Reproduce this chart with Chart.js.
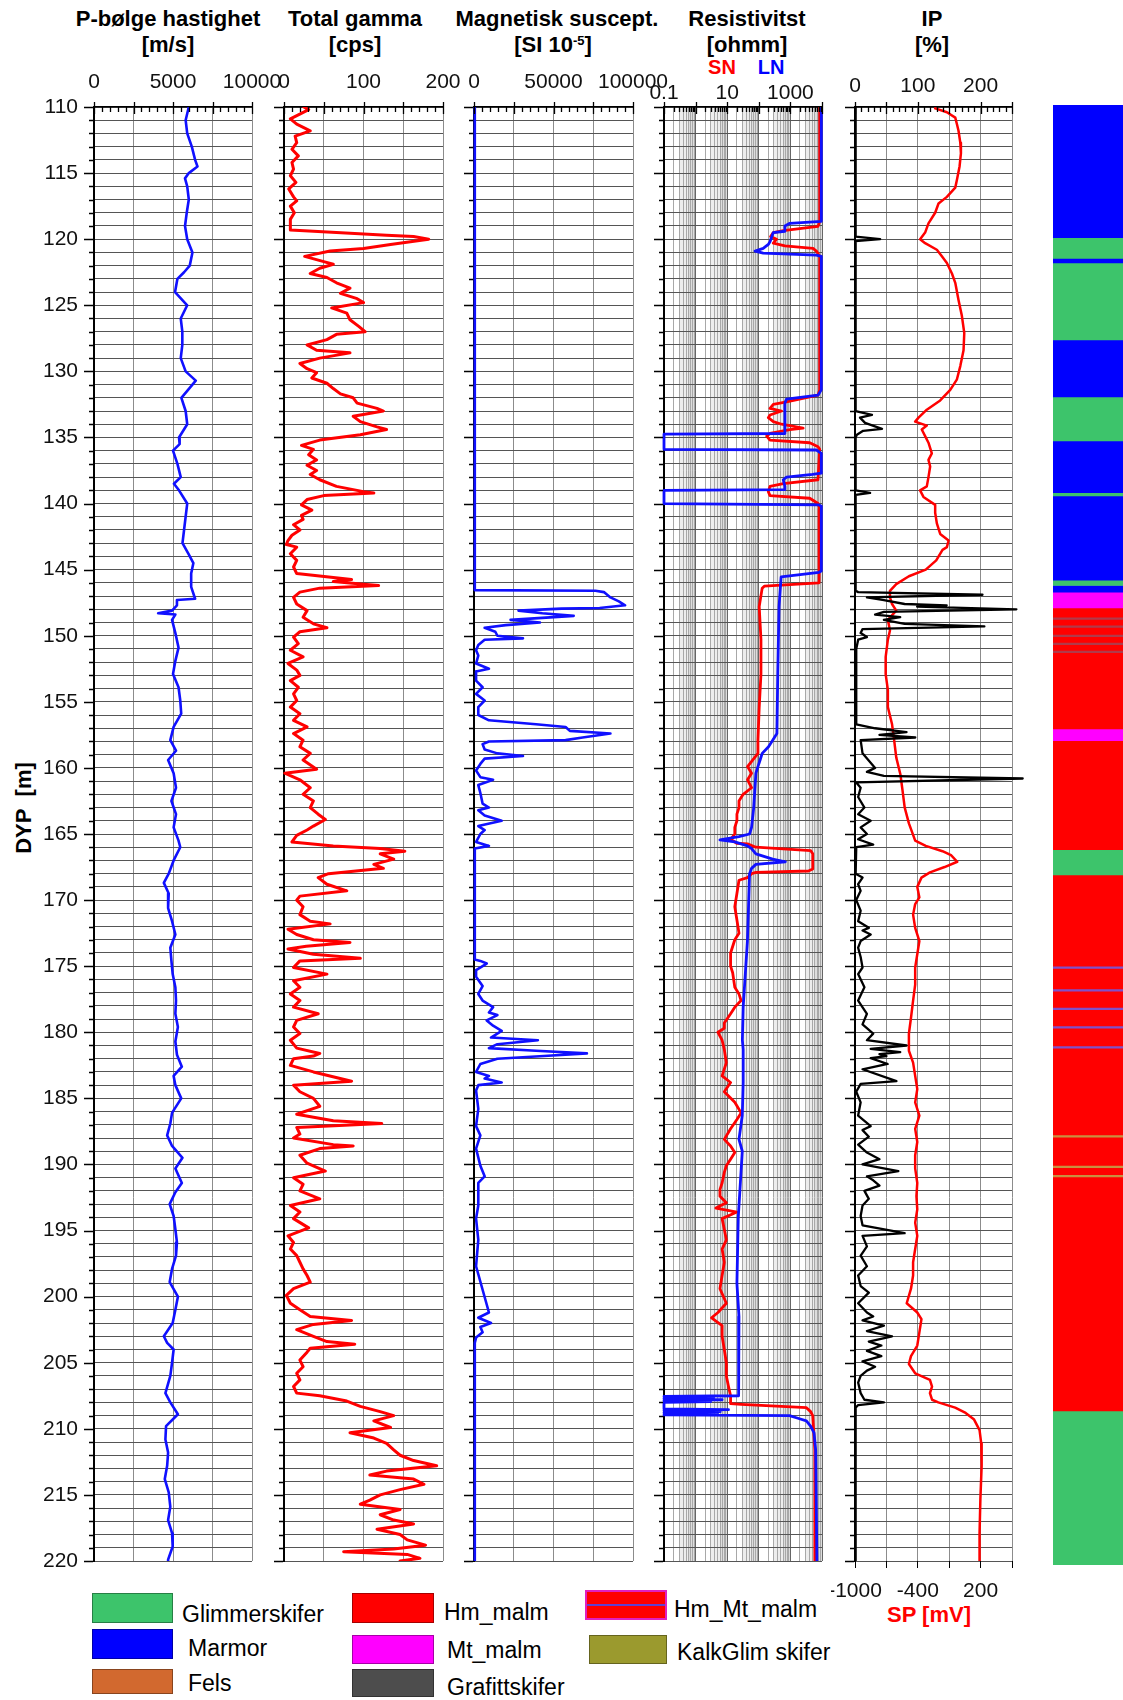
<!DOCTYPE html>
<html><head><meta charset="utf-8">
<script src="https://cdn.jsdelivr.net/npm/chart.js@4.4.1/dist/chart.umd.min.js"></script>
<style>
body{margin:0;background:#fff;font-family:"Liberation Sans",Arial,Helvetica,sans-serif;color:#000;}
#wrap{position:relative;width:1123px;height:1700px;overflow:hidden;background:#fff;}
canvas{position:absolute;}
.t{position:absolute;transform:translate(-50%,-50%);white-space:nowrap;}
.h{font-weight:bold;font-size:22px;}
.sw{position:absolute;box-sizing:border-box;border:1px solid rgba(0,0,0,0.35);}
.lt{position:absolute;font-size:23px;transform:translateY(-50%);white-space:nowrap;}
</style></head><body>
<div id="wrap">
 <div class="t h" style="left:168px;top:19px">P-bølge hastighet</div>
 <div class="t h" style="left:355px;top:19px">Total gamma</div>
 <div class="t h" style="left:557px;top:19px">Magnetisk suscept.</div>
 <div class="t h" style="left:747px;top:19px">Resistivitst</div>
 <div class="t h" style="left:932px;top:19px">IP</div>
 <div class="t h" style="left:168px;top:45px">[m/s]</div>
 <div class="t h" style="left:355px;top:45px">[cps]</div>
 <div class="t h" style="left:553px;top:45px">[SI 10<sup style="font-size:13px;vertical-align:7px">-5</sup>]</div>
 <div class="t h" style="left:747px;top:45px">[ohmm]</div>
 <div class="t h" style="left:932px;top:45px">[%]</div>
 <div class="t" style="left:722px;top:67px;font-weight:bold;font-size:20px;color:#f00">SN</div>
 <div class="t" style="left:771px;top:67px;font-weight:bold;font-size:20px;color:#00f">LN</div>
 <div class="t h" style="left:24px;top:808px;transform:translate(-50%,-50%) rotate(-90deg)">DYP&nbsp; [m]</div>
 <div class="t h" style="left:929px;top:1615px;color:#f00">SP [mV]</div>

 <div class="sw" style="left:92px;top:1593px;width:81px;height:30px;background:#3DC46B"></div>
 <div class="lt" style="left:182px;top:1614px">Glimmerskifer</div>
 <div class="sw" style="left:92px;top:1629px;width:81px;height:30px;background:#0000FF"></div>
 <div class="lt" style="left:188px;top:1648px">Marmor</div>
 <div class="sw" style="left:92px;top:1669px;width:81px;height:25px;background:#D2692F"></div>
 <div class="lt" style="left:188px;top:1683px">Fels</div>
 <div class="sw" style="left:352px;top:1593px;width:82px;height:30px;background:#FF0000"></div>
 <div class="lt" style="left:444px;top:1612px">Hm_malm</div>
 <div class="sw" style="left:352px;top:1635px;width:82px;height:29px;background:#FF00FF"></div>
 <div class="lt" style="left:447px;top:1650px">Mt_malm</div>
 <div class="sw" style="left:352px;top:1669px;width:82px;height:28px;background:#4D4D4D"></div>
 <div class="lt" style="left:447px;top:1687px">Grafittskifer</div>
 <div class="sw" style="left:585px;top:1590px;width:82px;height:30px;background:#FF0000;border:2px solid #E020C0"><div style="position:absolute;left:0;right:0;top:12px;height:2px;background:#6040D0"></div></div>
 <div class="lt" style="left:674px;top:1609px">Hm_Mt_malm</div>
 <div class="sw" style="left:589px;top:1635px;width:78px;height:29px;background:#9B9A2E"></div>
 <div class="lt" style="left:677px;top:1652px">KalkGlim skifer</div>
</div>
<script>
// ---------------- DATA (depth [m], value) ----------------
const vpData = [[110,6000],[111,5800],[112,5900],[113,6190],[114,6400],[114.5,6550],[115,6000],[115.4,5760],[116,5900],[117,6000],[118,5870],[119,5760],[120,5900],[121,6230],[122,6060],[122.5,5700],[123,5280],[124,5130],[125,5900],[126,5490],[127,5590],[128,5590],[129,5490],[130,5800],[130.7,6440],[131,6230],[132,5530],[133,5800],[134,5900],[135,5380],[135.5,5420],[136,5000],[137,5280],[138,5490],[138.5,5060],[139,5380],[140,5900],[141,5800],[142,5700],[143,5600],[143.8,5980],[144.5,6290],[145.3,6150],[146.3,6150],[147.2,6400],[147.3,5250],[147.7,5250],[148.1,4940],[148.3,4060],[148.4,5150],[148.8,4940],[149.8,5150],[150.9,5350],[151.9,5150],[152.9,5000],[153.9,5350],[154.9,5460],[155.9,5520],[156.9,5040],[157.9,4830],[158.7,5190],[159.4,4690],[160.4,5040],[161.5,5190],[162.5,4900],[163.5,5190],[164.5,5040],[165.5,5350],[166,5460],[167,5040],[168,4730],[168.7,4420],[169.5,4730],[170.6,4690],[171.6,4940],[172.6,5150],[173.6,4830],[174.6,4900],[175.6,4980],[176.6,5150],[177.6,5190],[178.6,5150],[179.6,5310],[180.7,5150],[181.7,5250],[182.6,5560],[183.3,5040],[184,5150],[185,5520],[186.1,4940],[186.9,4830],[187.8,4630],[188.6,4940],[189.5,5600],[190.3,5150],[191.4,5560],[192.1,5150],[193,4790],[193.9,5040],[194.9,5150],[195.9,5250],[196.9,5190],[197.9,4940],[198.9,4790],[200,5310],[201,5150],[202,4980],[203,4420],[203.5,4630],[204,5040],[205,4940],[206,4830],[207.3,4520],[208,4830],[208.9,5310],[209.8,4560],[210.8,4520],[211.8,4690],[212.8,4630],[213.8,4480],[214.8,4730],[215.9,4830],[216.9,4690],[217.9,4940],[218.9,4980],[219.9,4690],[220,4690]];

const gammaData = [[110,25],[110.2,31],[110.6,18],[110.9,8],[111.3,16],[111.8,33],[112.2,14],[112.7,16],[113.2,10],[113.7,18],[114.2,10],[114.7,12],[115.2,8],[115.7,15],[116.2,6],[116.8,12],[117.1,16],[117.5,8],[118,13],[118.5,8],[119,8],[119.3,8],[119.5,66],[119.7,129],[119.8,163],[120,182],[120.2,159],[120.4,134],[120.7,100],[120.9,58],[121.3,26],[121.7,50],[121.9,62],[122.2,45],[122.6,33],[122.9,54],[123.3,66],[123.7,83],[124.1,71],[124.5,92],[124.8,100],[125.2,60],[125.6,79],[126.1,83],[126.6,94],[127,102],[127.2,66],[127.6,54],[128,29],[128.4,41],[128.6,83],[129,45],[129.4,20],[129.8,29],[130.1,41],[130.5,35],[130.9,54],[131.3,62],[131.7,71],[132,87],[132.4,92],[132.8,117],[133,125],[133.4,87],[133.8,96],[134.2,117],[134.4,129],[134.8,96],[135.2,45],[135.6,22],[135.9,37],[136.3,31],[136.7,41],[137.1,29],[137.5,41],[137.8,33],[138.2,45],[138.7,66],[139.1,100],[139.2,113],[139.4,50],[139.7,29],[140.1,22],[140.5,35],[140.9,22],[141.2,24],[141.6,12],[142,20],[142.4,10],[142.8,5],[143.1,3],[143.3,16],[143.8,8],[144.3,16],[144.8,12],[145.3,16],[145.6,62],[145.75,85],[145.9,62],[146.1,100],[146.2,119],[146.4,45],[146.7,20],[147.1,12],[147.6,16],[148.1,29],[148.6,24],[149.1,37],[149.4,54],[149.7,20],[150.1,12],[150.6,18],[151.1,8],[151.6,24],[152.1,5],[152.6,16],[153,20],[153.4,8],[153.9,18],[154.4,12],[154.9,16],[155.4,8],[155.9,20],[156.4,12],[156.9,29],[157.4,12],[157.9,24],[158.4,20],[158.9,33],[159.4,24],[160.1,41],[160.4,1],[160.9,20],[161.5,33],[162,24],[162.5,37],[163,33],[163.5,43],[163.9,52],[164.4,37],[164.7,29],[165.1,16],[165.6,10],[165.9,62],[166.1,121],[166.3,152],[166.5,121],[166.9,138],[167.3,113],[167.6,125],[168,56],[168.3,43],[168.8,54],[169.3,79],[169.7,20],[170,16],[170.5,24],[171.1,20],[171.6,33],[171.8,58],[172.2,5],[172.6,16],[173,37],[173.2,83],[173.5,28],[173.7,5],[174.1,37],[174.4,96],[174.6,20],[175.1,12],[175.6,54],[176.1,12],[176.6,20],[177.1,8],[177.6,20],[178.1,12],[178.6,43],[179.1,16],[179.6,12],[180.1,20],[180.6,8],[181.2,16],[181.6,45],[181.8,37],[182,12],[182.5,8],[183,37],[183.7,85],[184,12],[184.5,20],[185,37],[185.6,45],[186.2,16],[186.7,62],[186.9,123],[187.2,16],[187.7,20],[188,12],[188.5,62],[188.6,87],[188.8,45],[189.3,20],[189.9,29],[190.5,52],[191,12],[191.5,24],[192,20],[192.6,45],[193.1,8],[193.6,20],[194.1,12],[194.8,31],[195.4,5],[195.9,12],[196.4,8],[196.9,16],[197.4,20],[197.9,24],[198.4,29],[198.9,33],[199.4,12],[199.9,3],[200.5,8],[201,20],[201.5,33],[201.8,85],[202.1,37],[202.5,16],[203,37],[203.4,54],[203.6,89],[203.9,33],[204.2,29],[204.8,20],[205.3,24],[205.8,16],[206.3,20],[206.8,12],[207.3,16],[207.5,45],[207.9,79],[208.3,96],[208.7,121],[209,138],[209.4,113],[209.9,134],[210.3,83],[210.7,113],[211.1,129],[211.6,138],[212,146],[212.4,163],[212.8,192],[213.2,129],[213.5,108],[213.8,163],[214.2,176],[214.6,146],[215,121],[215.4,108],[215.7,96],[216.1,146],[216.5,121],[216.9,138],[217.2,163],[217.6,117],[218,146],[218.4,155],[218.8,178],[219.1,138],[219.3,75],[219.5,155],[219.8,171],[220,146]];

const magData = [[110,500],[146.55,500],[146.6,76400],[146.7,81700],[147.1,85800],[147.4,91100],[147.7,95000],[147.9,79000],[147.95,55000],[148.1,28000],[148.3,43000],[148.5,62700],[148.8,23000],[149,41500],[149.2,20000],[149.4,6700],[149.7,13400],[150,14700],[150.2,30800],[150.3,6700],[150.7,2700],[151.1,1300],[151.5,2700],[152.1,1300],[152.5,9400],[152.7,1300],[153.4,1300],[153.9,5400],[154.4,1300],[154.9,6700],[155.4,2700],[156,2700],[156.4,9400],[156.7,39000],[156.9,57600],[157.2,60300],[157.4,85800],[157.7,68300],[157.9,57600],[158,9400],[158.2,5400],[158.6,6700],[158.9,14700],[159.1,30800],[159.3,6700],[159.7,4000],[160.2,1300],[160.7,4000],[160.9,12000],[161.3,2700],[161.9,4000],[162.7,5400],[163,9400],[163.2,2700],[163.6,6700],[164,17400],[164.4,2700],[164.7,6700],[165,4000],[165.6,1300],[165.9,9400],[166.1,500],[174.5,500],[174.6,4000],[174.8,8000],[175.3,1300],[175.8,1300],[176.5,5400],[177.1,2700],[177.6,5400],[178.1,12000],[178.5,9400],[178.7,14700],[179.1,8000],[179.5,12000],[179.9,17400],[180.4,10700],[180.6,40200],[180.9,14700],[181.2,9400],[181.4,39000],[181.6,71000],[181.8,44000],[182,14700],[182.4,4000],[183,1300],[183.3,9400],[183.5,6700],[183.8,17400],[184,2700],[184.4,1300],[185.8,2700],[187.1,1300],[187.8,4000],[188.8,1300],[190.1,4000],[190.9,6700],[191.4,2700],[193.1,2700],[194.1,1300],[195.7,2700],[197.7,1300],[201.2,9400],[201.6,2700],[202,10700],[202.3,4000],[202.7,5400],[203.1,1300],[203.5,500],[220,500]];

const resSN = [[110,8450],[118.65,8450],[119.03,7480],[119.36,594],[119.5,288],[119.8,237],[120,366],[120.3,288],[120.5,670],[120.7,5210],[120.9,6640],[121.3,8450],[131.4,8450],[131.8,7480],[132.3,755],[132.5,288],[132.8,226],[133,526],[133.3,226],[133.5,200],[133.8,288],[134,526],[134.3,2530],[134.4,961],[134.7,226],[134.9,178],[135.2,226],[135.4,4090],[135.7,7480],[135.9,8450],[138.2,7480],[138.5,594],[138.7,226],[139.1,200],[139.4,226],[139.6,4090],[140,7480],[140.4,8450],[146,8070],[146.25,149],[146.4,128],[147.8,103],[150.3,117],[152.9,117],[155.4,103],[157.9,94],[158.9,94],[159.9,44],[160.4,59],[160.9,44],[161.5,59],[162,32],[162.5,23.6],[163,23.6],[163.5,20.3],[164,20.3],[164.5,17.4],[165,17.4],[165.4,12.8],[165.7,20],[165.75,44],[166,81],[166.25,4365],[166.5,5090],[167.65,5090],[167.8,3745],[167.9,81],[168,59],[168.3,44],[168.5,23.6],[169.5,20.3],[170.5,17.4],[171.5,20.3],[172.5,23.6],[173,17.4],[174,12.8],[175,12.8],[175.5,14.9],[176.6,17.4],[177.1,23.6],[177.6,27.5],[178.1,17.4],[178.6,12.8],[179.3,8.1],[179.7,8.1],[180,5.1],[180.6,6.9],[181.3,8.1],[182.3,9.4],[183.3,6.9],[183.8,12.8],[184.5,8.1],[185.3,17.4],[186.1,27.5],[186.6,20.3],[187.3,12.8],[188.1,8.1],[188.6,12.8],[189.1,17.4],[189.6,12.8],[190.1,9.4],[190.6,8.1],[191.4,6.9],[191.9,5.9],[192.4,5.9],[192.9,9.4],[193.3,4.4],[193.6,20.3],[194.1,6.9],[194.9,8.1],[195.7,9.4],[196.4,6.9],[197.4,8.1],[198.4,6.9],[199.4,5.9],[200.5,9.4],[201.2,5.1],[201.6,3.2],[202.2,6.9],[203,6.9],[204,8.1],[205,9.4],[206,9.4],[206.8,11],[207.5,12.8],[208.1,12.8],[208.15,27.5],[208.4,3210],[208.7,4365],[209,5090],[211.6,5930],[220,5930]];

const resLN = [[110,9500],[118.65,9500],[118.8,961],[119,670],[119.4,670],[119.5,288],[120.2,226],[120.4,200],[120.7,138],[120.9,76],[121.05,138],[121.2,6640],[121.3,9500],[131.4,9500],[131.8,7480],[132.1,755],[132.4,670],[134.7,670],[134.75,0.1],[135.9,0.1],[135.95,6640],[136.2,9500],[137.7,9500],[137.8,5000],[138,755],[138.2,594],[138.7,670],[138.95,670],[139,0.1],[140,0.1],[140.1,8000],[140.2,9500],[145.1,9500],[145.2,8070],[145.55,509],[147.8,437],[152.9,398],[157.4,374],[157.9,275],[158.4,203],[158.9,128],[159.4,110],[159.9,94],[160.4,81],[163,69],[164.5,59],[165,51],[165.2,23.6],[165.45,5.9],[165.6,17.4],[165.9,43.7],[166.1,59],[166.5,81],[166.9,275],[167.1,692],[167.3,81],[167.6,59],[168,51],[173.1,43.7],[175.6,37.4],[178.1,32],[180.6,30.2],[181.3,32],[183.8,32],[186.3,30],[188.1,23.6],[189,30],[194,22.4],[199,20.3],[201.5,23.6],[204,22.4],[207.5,23.6],[207.55,0.1],[207.65,3.7],[207.7,0.1],[207.8,6.9],[207.85,0.1],[207.95,3],[208,0.1],[208.5,0.1],[208.55,11],[208.62,0.1],[208.7,6],[208.78,0.1],[208.86,5],[208.95,0.1],[209,935],[209.2,1730],[209.4,3200],[209.8,4365],[210.3,5600],[211.6,6300],[220,6900]];

const ipData = [[110,1],[119.8,1],[120,40],[120.15,1],[133,1],[133.3,27],[133.5,8],[133.9,16],[134.35,43],[134.5,13],[134.8,3],[135,1],[139,1],[139.2,24],[139.35,1],[146.6,1],[146.7,5],[146.9,203],[147.1,19],[147.3,46],[147.6,79],[147.7,146],[147.8,99],[148,257],[148.2,46],[148.4,32],[148.6,72],[148.8,46],[149.1,79],[149.3,206],[149.5,12],[149.8,9],[150.1,19],[150.3,5],[151,2],[156.7,2],[157,32],[157.3,82],[157.5,39],[157.7,96],[157.9,9],[158.9,12],[160,32],[160.3,19],[160.6,46],[160.8,267],[161.1,2],[161.5,9],[162.2,5],[163,15],[163.5,5],[164,25],[164.5,9],[165,19],[165.4,5],[165.8,29],[166,2],[168,1],[168.3,12],[168.8,5],[169.3,9],[170,2],[170.8,9],[171.6,5],[172.1,22],[172.3,12],[172.6,25],[173.1,9],[173.6,5],[174.3,9],[175.1,12],[175.6,5],[176.6,15],[177.6,5],[178.6,19],[179.4,12],[180.1,29],[180.6,19],[181,82],[181.25,25],[181.5,72],[181.65,39],[181.8,50],[181.95,25],[182.4,52],[182.8,12],[183.7,66],[183.9,9],[184.5,2],[185.3,9],[186.3,5],[187.1,25],[187.4,12],[187.9,22],[188.5,5],[189.1,19],[189.6,39],[190,12],[190.5,69],[190.9,19],[191.2,29],[191.6,39],[192,15],[192.6,22],[193.1,12],[193.9,9],[194.6,12],[195.2,79],[195.4,12],[196.2,19],[196.9,9],[197.7,19],[198.4,5],[199.2,9],[199.7,22],[200.5,5],[201.2,19],[201.5,29],[201.8,12],[202.2,46],[202.6,19],[203,59],[203.4,22],[203.7,42],[204.1,19],[204.5,42],[204.9,12],[205.3,32],[205.6,19],[206,9],[206.5,5],[207.3,9],[207.8,15],[208,46],[208.2,5],[208.4,1],[220,1]];

const spData = [[110.1,-234],[110.4,-122],[110.8,-42],[111.3,-26],[111.8,-11],[112.7,6],[113.5,12],[114.5,-1],[115.5,-26],[116.1,-42],[116.8,-122],[117.3,-202],[118,-234],[118.8,-298],[119.5,-330],[120,-378],[120.3,-330],[120.8,-218],[121.3,-170],[121.8,-122],[122.6,-74],[123.3,-42],[124.6,-11],[125.8,21],[127.1,44],[128.4,37],[129.6,6],[130.6,-26],[131.4,-90],[132.2,-186],[132.9,-314],[133.5,-393],[133.8,-425],[134.1,-314],[134.4,-362],[134.9,-330],[135.4,-298],[136.2,-266],[136.7,-298],[137.2,-282],[138,-298],[138.7,-314],[139,-378],[139.5,-346],[140.1,-234],[140.7,-234],[141.5,-218],[142.3,-186],[142.8,-106],[143.3,-122],[143.5,-164],[144.3,-224],[145,-324],[145.5,-485],[146.1,-606],[146.6,-666],[147.1,-666],[147.6,-646],[148.1,-606],[148.8,-686],[149.6,-666],[150.3,-686],[151.6,-707],[152.9,-707],[154.1,-686],[155.4,-686],[156.7,-646],[157.9,-626],[159.2,-606],[160.5,-566],[161.7,-546],[163,-525],[164.2,-485],[165.5,-425],[165.9,-324],[166.3,-164],[166.6,-83],[167.1,-23],[167.5,-144],[167.9,-284],[168.3,-365],[169,-405],[169.8,-385],[170.3,-425],[171.1,-445],[172.1,-425],[173.1,-385],[174.1,-405],[175.1,-425],[176.4,-425],[177.6,-445],[178.9,-465],[180.1,-485],[181.4,-485],[182.3,-445],[183.3,-425],[184.3,-405],[185.3,-425],[186.3,-385],[187.3,-425],[188.3,-405],[189.3,-425],[190.3,-425],[191.4,-405],[192.4,-413],[193.4,-405],[194.4,-425],[195.4,-405],[196.4,-425],[197.4,-445],[198.4,-445],[199.4,-465],[200.5,-506],[201.2,-405],[201.7,-365],[202.7,-385],[203.7,-405],[204.5,-465],[205.1,-485],[205.8,-425],[206.3,-284],[206.8,-264],[207.3,-284],[207.8,-264],[208,-204],[208.4,-43],[208.8,57],[209.3,138],[210.1,190],[211.1,206],[212.8,210],[215.3,198],[217.9,190],[220,190]];

const lithoIntervals = [[110,120,'Marmor'],[120,121.55,'Glimmerskifer'],[121.55,121.9,'Marmor'],[121.9,127.7,'Glimmerskifer'],[127.7,132,'Marmor'],[132,135.3,'Glimmerskifer'],[135.3,139.2,'Marmor'],[139.2,139.45,'Glimmerskifer'],[139.45,145.8,'Marmor'],[145.8,146.2,'Glimmerskifer'],[146.2,146.7,'Marmor'],[146.7,147.9,'Mt_malm'],[147.9,157,'Hm_Mt_malm'],[157,157.9,'Mt_malm'],[157.9,166.1,'Hm_malm'],[166.1,168,'Glimmerskifer'],[168,208.4,'Hm_malm'],[208.4,220,'Glimmerskifer']];
const lithoLines = [[148.7,'#b03a4a'],[149.3,'#b03a4a'],[150,'#b03a4a'],[150.6,'#b03a4a'],[151.2,'#b03a4a'],[175,'#8050c8'],[176.7,'#8050c8'],[178.1,'#8050c8'],[179.5,'#8050c8'],[181,'#8050c8'],[187.7,'#c89040'],[190,'#c89040'],[190.7,'#c89040']];
const lithoColors = {Glimmerskifer:'#3DC46B', Marmor:'#0000FF', Fels:'#D2692F', Hm_malm:'#FF0000', Mt_malm:'#FF00FF', Grafittskifer:'#4D4D4D', Hm_Mt_malm:'#FF0000', KalkGlim:'#9B9A2E'};

const vpLabels = [0,5000,10000];
const gammaLabels = [0,100,200];
const magLabels = [0,50000,100000];
const resLabels = [0.1,10,1000];
const ipLabels = [0,100,200];
const spLabels = [-1000,-400,200];
const depthLabelStep = 5;

// ---------------- RENDER ----------------
Chart.defaults.font.family = '"Liberation Sans", Arial, Helvetica, sans-serif';
Chart.defaults.color = '#000';
const wrap = document.getElementById('wrap');
const PT = 107, PB = 1561, CH = 1600;
const xy = pairs => pairs.map(p => ({x: p[1], y: p[0]}));
const range = (a, b, s) => { const r = []; for (let v = a; v <= b + 1e-9; v += s) r.push(+v.toPrecision(6)); return r; };

function makeRuler(minor, major, shade) {
  return {
    id: 'ruler',
    beforeDraw(chart) {
      if (!shade) return;
      const {ctx, chartArea: a} = chart; const xs = chart.scales.x;
      ctx.save();
      for (let n = -1; n <= 3; n++) {
        const x1 = xs.getPixelForValue(3 * Math.pow(10, n));
        const x3 = xs.getPixelForValue(6 * Math.pow(10, n));
        const x2 = xs.getPixelForValue(Math.pow(10, n + 1));
        ctx.fillStyle = 'rgba(0,0,0,0.07)'; ctx.fillRect(x1, a.top, x2 - x1, a.bottom - a.top);
        ctx.fillStyle = 'rgba(0,0,0,0.07)'; ctx.fillRect(x3, a.top, x2 - x3, a.bottom - a.top);
      }
      ctx.restore();
    },
    afterDraw(chart) {
      const {ctx, chartArea: a} = chart; const xs = chart.scales.x, ys = chart.scales.y;
      ctx.save(); ctx.strokeStyle = '#000'; ctx.lineWidth = 1.3; ctx.beginPath();
      for (let d = 110; d <= 220; d++) {
        const py = Math.round(ys.getPixelForValue(d)) + 0.5;
        const len = d % 5 === 0 ? 10 : 5;
        ctx.moveTo(a.left - len, py); ctx.lineTo(a.left - 1, py);
      }
      minor.forEach(v => { const px = Math.round(xs.getPixelForValue(v)) + 0.5; ctx.moveTo(px, a.top); ctx.lineTo(px, a.top + 5); });
      major.forEach(v => { const px = Math.round(xs.getPixelForValue(v)) + 0.5; ctx.moveTo(px, a.top - 5); ctx.lineTo(px, a.top + 7); });
      ctx.stroke(); ctx.restore();
    }
  };
}

function line(pairs, color, width, axis, clipR) {
  return {data: xy(pairs), borderColor: color, backgroundColor: color, borderWidth: width, showLine: true,
    pointRadius: 0, tension: 0, borderJoinStyle: 'round', borderCapStyle: 'round', xAxisID: axis || 'x',
    clip: {left: 4, right: clipR || 3, top: 0, bottom: 0}};
}

function track(o) {
  const cv = document.createElement('canvas');
  const w = o.padL + (o.R - o.L) + o.padR;
  cv.width = w; cv.height = CH;
  cv.style.left = (o.L - o.padL) + 'px'; cv.style.top = '0px';
  cv.style.width = w + 'px'; cv.style.height = CH + 'px';
  wrap.appendChild(cv);
  const xAxis = {
    type: o.type || 'linear', position: 'top', min: o.min, max: o.max,
    ticks: {autoSkip: false, maxRotation: 0, minRotation: 0, stepSize: o.step, padding: o.labelPad, font: {size: 21}, color: '#111',
      callback: v => o.labels.some(l => Math.abs(l - v) < 1e-9 * Math.max(1, Math.abs(l))) ? String(v) : ''},
    grid: {color: o.gridColor || '#8c8c8c', lineWidth: 1, drawTicks: false},
    border: {display: true, color: '#000', width: 1.5},
    afterFit: s => { s.height = PT; s.paddingLeft = 0; s.paddingRight = 0; }
  };
  if (o.buildTicks) xAxis.afterBuildTicks = o.buildTicks;
  const scales = {
    x: xAxis,
    y: {type: 'linear', min: 110, max: 220, reverse: true,
      ticks: {stepSize: 1, autoSkip: false, display: !!o.depth, padding: 16, font: {size: 21}, color: '#111',
        callback: v => v % depthLabelStep === 0 ? String(v) : ''},
      grid: {color: '#555', lineWidth: 1, drawTicks: false},
      border: {display: true, color: '#000', width: 2},
      afterFit: s => { s.width = o.padL; s.paddingTop = 0; s.paddingBottom = 0; }}
  };
  if (o.x2) scales.x2 = o.x2;
  return new Chart(cv, {
    type: 'scatter',
    data: {datasets: o.datasets},
    options: {responsive: false, animation: false, events: [],
      layout: {padding: {left: 0, right: o.padR, top: 0, bottom: o.x2 ? 0 : CH - PB}},
      plugins: {legend: {display: false}, tooltip: {enabled: false}},
      scales},
    plugins: [makeRuler(o.minor, o.major, o.shade)]
  });
}

// Track 1: P-wave
track({L: 94, R: 252, padL: 94, padR: 30, min: 0, max: 10000, step: 2500, labels: vpLabels, labelPad: 12, depth: true,
  minor: range(0, 10000, 500).filter(v => v % 2500), major: range(0, 10000, 2500),
  datasets: [line(vpData, '#1010FF', 2.6)]});
// Track 2: gamma
track({L: 284, R: 443, padL: 24, padR: 30, min: 0, max: 200, step: 50, labels: gammaLabels, labelPad: 12,
  minor: range(0, 200, 10).filter(v => v % 50), major: range(0, 200, 50),
  datasets: [line(gammaData, '#FF0000', 3)]});
// Track 3: mag susc
track({L: 474, R: 633, padL: 24, padR: 40, min: 0, max: 100000, step: 25000, labels: magLabels, labelPad: 12,
  minor: range(0, 100000, 5000).filter(v => v % 25000), major: range(0, 100000, 25000),
  datasets: [line(magData, '#1010FF', 2.6)]});
// Track 4: resistivity (log)
const resGrid = [];
for (let n = -1; n <= 3; n++) for (let k = 1; k <= 9; k++) resGrid.push(+(k * Math.pow(10, n)).toPrecision(2));
resGrid.push(10000);
const resDecades = resGrid.filter(v => Math.abs(Math.log10(v) - Math.round(Math.log10(v))) < 1e-9);
track({L: 664, R: 822, padL: 24, padR: 30, type: 'logarithmic', min: 0.1, max: 10000, labels: resLabels, labelPad: 1, shade: true,
  buildTicks: s => { s.ticks = resGrid.map(v => ({value: v})); },
  gridColor: c => (c.tick && resDecades.includes(c.tick.value)) ? '#666' : '#a8a8a8',
  minor: resGrid.filter(v => !resDecades.includes(v)), major: resDecades,
  datasets: [line(resLN, '#1010FF', 2.8), line(resSN, '#FF0000', 2.8)]});
// Track 5: IP + SP
track({L: 855, R: 1012, padL: 24, padR: 35, min: 0, max: 250, step: 50, labels: ipLabels, labelPad: 8,
  minor: range(0, 250, 10).filter(v => v % 50), major: range(0, 250, 50),
  x2: {type: 'linear', position: 'bottom', min: -1000, max: 500,
    ticks: {stepSize: 300, autoSkip: false, maxRotation: 0, padding: 11, font: {size: 21}, color: '#111',
      callback: v => spLabels.includes(v) ? String(v) : ''},
    grid: {drawOnChartArea: false, drawTicks: true, tickLength: 7, color: '#000'},
    border: {display: false},
    afterFit: s => { s.height = CH - PB; s.paddingLeft = 0; s.paddingRight = 0; }},
  datasets: [line(ipData, '#000000', 2.3, 'x', 25), line(spData, '#FF0000', 2.5, 'x2')]});

// Lithology column
(function () {
  const cv = document.createElement('canvas');
  cv.width = 70; cv.height = CH;
  cv.style.left = '1053px'; cv.style.top = '0px'; cv.style.width = '70px'; cv.style.height = CH + 'px';
  wrap.appendChild(cv);
  const ds = lithoLines.map(l => ({data: [[l[0] - 0.06, l[0] + 0.06]], backgroundColor: l[1], borderWidth: 0, barPercentage: 1, categoryPercentage: 1, order: 0}))
    .concat(lithoIntervals.map(iv => ({data: [[iv[0], iv[1]]], backgroundColor: lithoColors[iv[2]], borderWidth: 0, barPercentage: 1, categoryPercentage: 1, order: 1})));
  new Chart(cv, {
    type: 'bar',
    data: {labels: ['Litologi'], datasets: ds},
    options: {responsive: false, animation: false, events: [],
      layout: {padding: {top: 105, bottom: CH - 1565, left: 0, right: 0}},
      plugins: {legend: {display: false}, tooltip: {enabled: false}},
      scales: {x: {display: false, stacked: true}, y: {display: false, stacked: false, min: 110, max: 220, reverse: true}}}
  });
})();
</script>
</body></html>
